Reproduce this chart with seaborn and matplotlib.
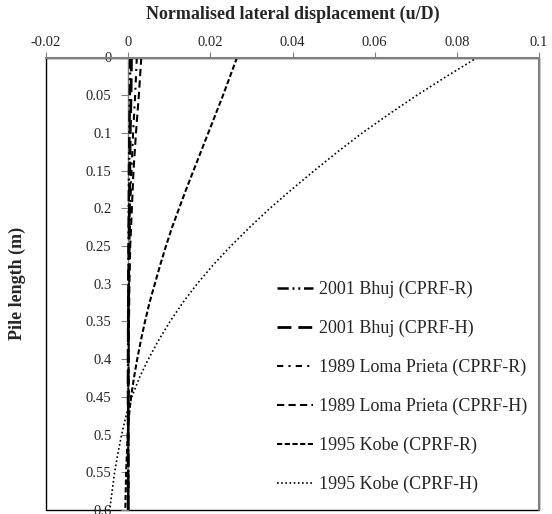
import matplotlib
matplotlib.use("Agg")
import matplotlib.pyplot as plt
from matplotlib.patches import Rectangle
import seaborn as sns

# ---- data ----
pile_length = [0.0, 0.025, 0.05, 0.075, 0.1, 0.125, 0.15, 0.175, 0.2, 0.225, 0.25, 0.275,
               0.3, 0.325, 0.35, 0.375, 0.4, 0.425, 0.45, 0.475, 0.5, 0.525, 0.55, 0.575, 0.6]

bhuj_r = [0.0005, 0.00045, 0.0004, 0.00035, 0.0003, 0.00025, 0.0002, 0.00018, 0.00015, 0.00012,
          0.0001, 0.00008, 0.00005, 0.00003, 0.0, 0.0, 0.0, 0.0, 0.0, 0.0, 0.0, 0.0, 0.0, 0.0, 0.0]
bhuj_h = [0.0008, 0.00075, 0.0007, 0.0006, 0.0005, 0.00045, 0.0004, 0.00035, 0.0003, 0.00025,
          0.0002, 0.00015, 0.0001, 0.00008, 0.00005, 0.00003, 0.0, 0.0, 0.0, 0.0, 0.0, 0.0, 0.0, 0.0, 0.0]
loma_r = [0.0021, 0.0019, 0.0017, 0.00145, 0.0012, 0.001, 0.0008, 0.00065, 0.0005, 0.0004,
          0.0003, 0.00025, 0.0002, 0.00015, 0.0001, 0.00008, 0.00005, 0.00003, 0.0, 0.0, 0.0, 0.0, 0.0, 0.0, 0.0]
loma_h = [0.0032, 0.0029, 0.0026, 0.00225, 0.0019, 0.0016, 0.0013, 0.0011, 0.0009, 0.0007,
          0.0005, 0.0004, 0.0003, 0.00025, 0.0002, 0.00015, 0.0001, 0.0001, 0.0001, 0.00005, 0.0, 0.0, 0.0, 0.0, 0.0]
kobe_r = [0.0265, 0.0248, 0.0231, 0.0213, 0.0195, 0.0177, 0.0159, 0.0141, 0.0124, 0.0107,
          0.0092, 0.0078, 0.0065, 0.0052, 0.0041, 0.0031, 0.0022, 0.0014, 0.0007, 0.0002,
          -0.0001, -0.0003, -0.0005, -0.0006, -0.0007]
kobe_h = [0.085, 0.0775, 0.0703, 0.0635, 0.0570, 0.0510, 0.0453, 0.0398, 0.0345, 0.0296,
          0.0250, 0.0207, 0.0168, 0.0133, 0.0102, 0.0074, 0.0049, 0.0027, 0.0009, -0.0005,
          -0.0016, -0.0025, -0.0033, -0.0039, -0.0045]

series_labels = ["2001 Bhuj (CPRF-R)", "2001 Bhuj (CPRF-H)",
                 "1989 Loma Prieta (CPRF-R)", "1989 Loma Prieta (CPRF-H)",
                 "1995 Kobe (CPRF-R)", "1995 Kobe (CPRF-H)"]
x_ticks = [-0.02, 0, 0.02, 0.04, 0.06, 0.08, 0.1]
x_ticklabels = ["-0.02", "0", "0.02", "0.04", "0.06", "0.08", "0.1"]
y_ticks = [0, 0.05, 0.1, 0.15, 0.2, 0.25, 0.3, 0.35, 0.4, 0.45, 0.5, 0.55, 0.6]
y_ticklabels = ["0", "0.05", "0.1", "0.15", "0.2", "0.25", "0.3", "0.35", "0.4", "0.45", "0.5", "0.55", "0.6"]

# ---- style ----
sns.set_theme(style="white")
plt.rcParams['font.family'] = ['Liberation Serif', 'DejaVu Serif']

styles = [
    dict(lw=1.8, ls=(0, (4.5, 1.5, 0.8, 1.5, 0.8, 1.5))),
    dict(lw=2.0, ls=(0, (5, 2.5))),
    dict(lw=1.5, ls=(0, (3, 2.5, 1, 2.5))),
    dict(lw=1.5, ls=(0, (3.5, 2))),
    dict(lw=1.5, ls=(0, (2.5, 1.2))),
    dict(lw=1.2, ls=(0, (1, 1.5))),
]

fig = plt.figure(figsize=(5.52, 5.14), dpi=100)
ax = fig.add_axes([46/552, 1 - 510/514, (539-46)/552, (510-57.5)/514])

all_series = [bhuj_r, bhuj_h, loma_r, loma_h, kobe_r, kobe_h]
for vals, lab, st in zip(all_series, series_labels, styles):
    sns.lineplot(x=vals, y=pile_length, sort=False, orient="y", ax=ax,
                 color="black", linewidth=st["lw"], linestyle=st["ls"], label=lab,
                 legend=False)

ax.set_xlim(-0.02, 0.1)
ax.set_ylim(0.6, 0)

ax.xaxis.tick_top()
ax.xaxis.set_label_position('top')
ax.set_xticks(x_ticks)
ax.set_xticklabels(x_ticklabels)
ax.set_yticks(y_ticks)
ax.set_yticklabels(y_ticklabels)

ax.tick_params(axis='x', direction='out', length=4, width=0.8, color='#808080',
               labelsize=10.5, pad=2, top=True, bottom=False)
ax.tick_params(axis='y', direction='out', length=5, width=0.8, color='#808080',
               labelsize=10.5, pad=7, left=True)

for s in ['top', 'bottom', 'right', 'left']:
    ax.spines[s].set_visible(False)
ax.spines['left'].set_visible(True)
ax.spines['left'].set_position(('data', 0))
ax.spines['left'].set_color('#808080')
ax.spines['left'].set_linewidth(1.0)
ax.spines['left'].set_zorder(1)
ax.spines['top'].set_visible(True)
ax.spines['top'].set_color('#808080')
ax.spines['top'].set_linewidth(1.5)

# plot-area border
ax.add_patch(Rectangle((0, 0), 1, 1, transform=ax.transAxes, fill=False,
                       edgecolor='black', linewidth=1.0, clip_on=False, zorder=0))
ax.plot([1, 1], [0, 1], transform=ax.transAxes, color='#808080', lw=1.5, clip_on=False)

ax.set_xlabel("Normalised lateral displacement (u/D)", fontsize=13, fontweight='bold')
ax.xaxis.set_label_coords(0.5, 1 + (57.5 - 14) / 452.5)
ax.xaxis.label.set_va('center')
ax.set_ylabel("Pile length (m)", fontsize=13, fontweight='bold')
ax.yaxis.set_label_coords((17 - 46) / 493, 0.5)
ax.yaxis.label.set_va('center')

handles = ax.lines[:6]
fig.legend(handles, series_labels, loc='upper left',
           bbox_to_anchor=(268/552, 1 - 272/514), frameon=False, fontsize=13,
           borderpad=0, handlelength=2.0, handletextpad=0.3, labelspacing=1.2)

fig.savefig("out.png", dpi=100, facecolor='white')
